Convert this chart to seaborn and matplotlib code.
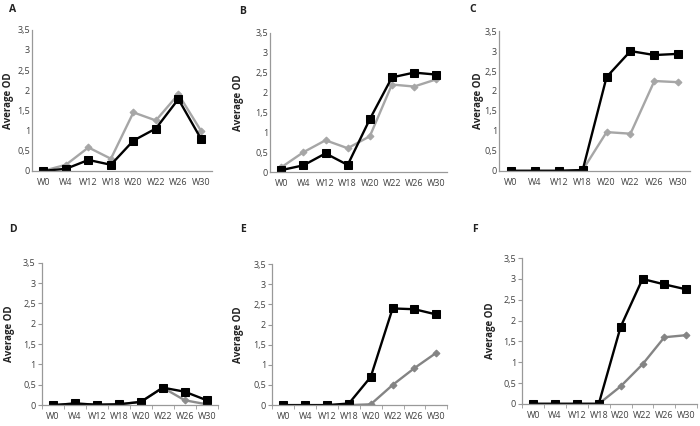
import numpy as np
import pandas as pd
import seaborn as sns
import matplotlib.pyplot as plt

weeks = ['W0', 'W4', 'W12', 'W18', 'W20', 'W22', 'W26', 'W30']
yticks = [0, 0.5, 1, 1.5, 2, 2.5, 3, 3.5]
ytick_labels = ['0', '0,5', '1', '1,5', '2', '2,5', '3', '3,5']

black_a = [0.0, 0.05, 0.27, 0.15, 0.75, 1.05, 1.78, 0.80]
gray_a = [0.0, 0.15, 0.58, 0.30, 1.45, 1.25, 1.90, 1.00]
black_b = [0.05, 0.17, 0.47, 0.18, 1.33, 2.38, 2.50, 2.45]
gray_b = [0.12, 0.50, 0.80, 0.60, 0.90, 2.20, 2.15, 2.33]
black_c = [0.0, 0.0, 0.0, 0.02, 2.35, 3.00, 2.90, 2.93]
gray_c = [0.0, 0.0, 0.0, 0.02, 0.97, 0.93, 2.25, 2.22]
black_d = [0.0, 0.04, 0.01, 0.02, 0.08, 0.43, 0.33, 0.12]
gray_d = [0.0, 0.04, 0.01, 0.02, 0.08, 0.43, 0.12, 0.02]
black_e = [0.0, 0.0, 0.0, 0.04, 0.70, 2.40, 2.38, 2.25]
gray_e = [0.0, 0.0, 0.0, 0.0, 0.02, 0.50, 0.92, 1.30]
black_f = [0.0, 0.0, 0.0, 0.0, 1.85, 3.00, 2.87, 2.75]
gray_f = [0.0, 0.0, 0.0, 0.0, 0.42, 0.95, 1.60, 1.65]

sns.set_style('white')
plt.rcParams['font.family'] = ['Open Sans', 'DejaVu Sans']

fig = plt.figure(figsize=(7, 4.26), dpi=100)

# (letter, black, gray, gray colour, axes rect, letter pos, ylabel x, ticks shown)
panels = [
    ('A', black_a, gray_a, '#a6a6a6', [0.046, 0.599, 0.257, 0.331], (13, 10), 9, False),
    ('B', black_b, gray_b, '#a6a6a6', [0.386, 0.596, 0.253, 0.327], (243, 12), 238, False),
    ('C', black_c, gray_c, '#a6a6a6', [0.713, 0.599, 0.273, 0.328], (473, 10), 478, False),
    ('D', black_d, gray_d, '#8c8c8c', [0.060, 0.049, 0.251, 0.334], (13, 230), 10, True),
    ('E', black_e, gray_e, '#848484', [0.389, 0.049, 0.250, 0.331], (243, 230), 239, True),
    ('F', black_f, gray_f, '#848484', [0.746, 0.052, 0.250, 0.342], (475, 230), 491, True),
]

idx = np.arange(len(weeks))
for letter, blk, gry, gcol, rect, lpos, ylx, ticks in panels:
    ax = fig.add_axes(rect)
    df = pd.DataFrame({'x': idx, 'black': blk, 'gray': gry})
    sns.lineplot(data=df, x='x', y='gray', ax=ax, color=gcol, lw=1.7,
                 marker='D', markersize=3.5, markeredgecolor=gcol)
    sns.lineplot(data=df, x='x', y='black', ax=ax, color='black', lw=1.7,
                 marker='s', markersize=5.5, markeredgecolor='black')
    ax.set_xlim(-0.5, 7.5)
    ax.set_ylim(0, 3.5)
    ax.set_xticks(idx)
    ax.set_xticklabels(weeks)
    ax.set_yticks(yticks)
    ax.set_yticklabels(ytick_labels)
    ax.set_xticks(np.arange(-0.5, 8, 1), minor=True)
    tlen = 3 if ticks else 0
    ax.tick_params(axis='x', which='major', length=0, pad=5,
                   labelsize=6.5, labelcolor='#404040')
    ax.tick_params(axis='x', which='minor', length=tlen, color='#999999',
                   bottom=True, direction='out')
    ax.tick_params(axis='y', length=tlen, color='#999999', left=True,
                   labelsize=6.5, labelcolor='#404040', pad=1.5)
    ax.set_xlabel('')
    ax.set_ylabel('')
    for side in ['top', 'right']:
        ax.spines[side].set_visible(False)
    for side in ['left', 'bottom']:
        ax.spines[side].set_color('#999999')
        ax.spines[side].set_linewidth(0.9)
    ax.set_facecolor('white')
    fig.text(lpos[0] / 700, 1 - lpos[1] / 426, letter, fontsize=7.5,
             fontweight='bold', ha='center', va='center', color='#222222')
    ymid = rect[1] + rect[3] / 2
    fig.text(ylx / 700, ymid, 'Average OD', rotation=90, fontsize=7,
             fontweight='bold', ha='center', va='center', color='#222222')

fig.savefig('out.png', dpi=100, facecolor='white')
